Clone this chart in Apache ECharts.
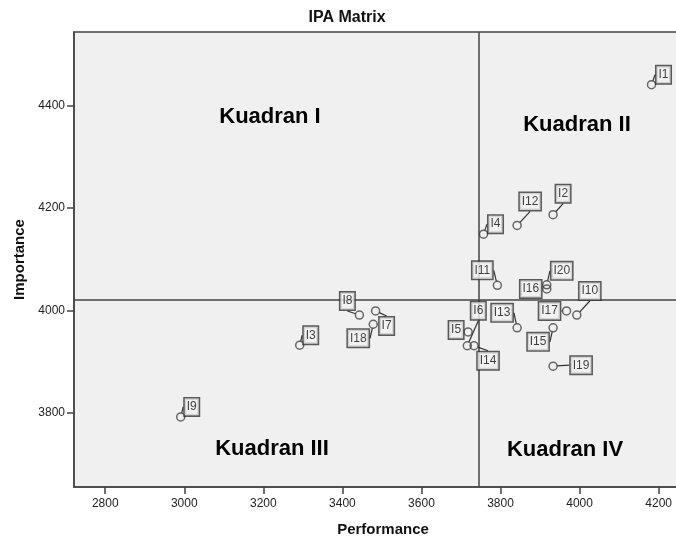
<!DOCTYPE html>
<html>
<head>
<meta charset="utf-8">
<script src="https://cdn.jsdelivr.net/npm/echarts@6/dist/echarts.min.js"></script>
<style>
html,body{margin:0;padding:0;background:#fff}
#chart{width:676px;height:538px}
</style>
</head>
<body>
<div id="chart"></div>
<script>
// IPA matrix data
var itemNames   = ['I1','I2','I3','I4','I5','I6','I7','I8','I9','I10','I11','I12','I13','I14','I15','I16','I17','I18','I19','I20'];
var performance = [4182,3933,3292,3757,3718,3716,3484,3443,2991,3993,3792,3842,3842,3733,3933,3917,3967,3478,3933,3917];
var importance  = [4441,4187,3932,4149,3958,3931,3999,3991,3792,3991,4049,4166,3966,3931,3966,4042,3999,3973,3891,4050];
var xTicks = [2800,3000,3200,3400,3600,3800,4000,4200];
var yTicks = [3800,4000,4200,4400];
var meanPerformance = 3744;
var meanImportance = 4020;
var quadrantNames = ['Kuadran I','Kuadran II','Kuadran III','Kuadran IV'];

// where each label box sits relative to its point (px)
var labelShift = [[12,-10],[10,-21],[11,-10],[12,-10],[-12,-2],[11,-35],[11,15],[-12,-14],[11,-10],[13,-24],
                  [-15,-15],[13,-24],[-15,-15],[14,15],[-15,14],[-16,0],[-17,0],[-15,14],[28,-1],[15,-14]];
var quadrantPos = [[270,117],[577,125],[272,449],[565,450]];

var FONT = "'Liberation Sans', Arial, sans-serif";
var dom = document.getElementById('chart');
var chart = echarts.init(dom, null, {renderer: 'canvas'});

var points = itemNames.map(function (n, i) {
    return {name: n, value: [performance[i], importance[i]]};
});

function plain(v) { return String(v); }

var option = {
    animation: false,
    backgroundColor: '#fff',
    textStyle: {fontFamily: FONT},
    grid: {
        left: 74, top: 32, right: -2, bottom: 51,
        outerBoundsMode: 'none', containLabel: false,
        show: true, backgroundColor: '#f0f0f0',
        borderColor: '#444', borderWidth: 1.5
    },
    xAxis: {
        type: 'value', min: 2721, max: 4249,
        name: 'Performance', nameLocation: 'middle', nameGap: 35,
        nameTextStyle: {fontSize: 15, fontWeight: 'bold', color: '#111', padding: [0, 0, 0, 14]},
        axisLine: {show: true, lineStyle: {color: '#444', width: 1.5}},
        axisTick: {show: true, length: 7, customValues: xTicks, lineStyle: {color: '#444', width: 1.5}},
        axisLabel: {customValues: xTicks, formatter: plain, fontSize: 12, color: '#222', margin: 11},
        splitLine: {show: false}
    },
    yAxis: {
        type: 'value', min: 3655, max: 4544,
        name: 'Importance', nameLocation: 'middle', nameGap: 40,
        nameTextStyle: {fontSize: 15, fontWeight: 'bold', color: '#111'},
        axisLine: {show: true, lineStyle: {color: '#444', width: 1.5}},
        axisTick: {show: true, length: 7, customValues: yTicks, lineStyle: {color: '#444', width: 1.5}},
        axisLabel: {customValues: yTicks, formatter: plain, fontSize: 12, color: '#222', margin: 9},
        splitLine: {show: false}
    },
    graphic: [
        {type: 'text', x: 347, y: 18, style: {text: 'IPA Matrix', fontSize: 16, fontWeight: 'bold', fontFamily: FONT, fill: '#111', align: 'center', verticalAlign: 'middle'}}
    ].concat(quadrantNames.map(function (q, i) {
        return {type: 'text', x: quadrantPos[i][0], y: quadrantPos[i][1], z: 10,
            style: {text: q, fontSize: 22, fontWeight: 'bold', fontFamily: FONT, fill: '#000', align: 'center', verticalAlign: 'middle'}};
    })),
    series: [{
        type: 'scatter',
        data: points,
        symbol: 'circle',
        symbolSize: 8,
        itemStyle: {color: 'rgba(0,0,0,0)', borderColor: '#444', borderWidth: 1.5},
        label: {
            show: true, position: 'inside', formatter: '{b}',
            fontSize: 12, color: '#111', fontFamily: FONT,
            backgroundColor: '#f2f2f2', borderColor: '#333', borderWidth: 1.5,
            padding: [3, 2, 2, 2]
        },
        labelLine: {show: true, lineStyle: {color: '#333', width: 1.2}},
        labelLayout: function (p) {
            var s = labelShift[p.dataIndex];
            return {dx: s[0], dy: s[1]};
        },
        markLine: {
            silent: true, symbol: 'none',
            label: {show: false},
            lineStyle: {color: '#444', width: 1.5, type: 'solid'},
            data: [{xAxis: meanPerformance}, {yAxis: meanImportance}]
        },
        z: 5
    }]
};
chart.setOption(option);
</script>
</body>
</html>
